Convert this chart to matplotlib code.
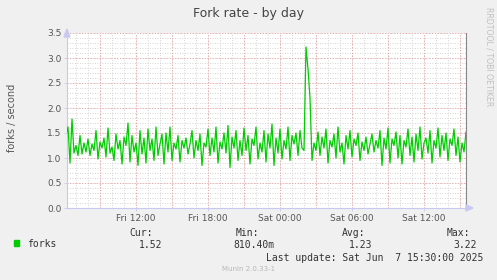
import numpy as np
import pandas as pd
import matplotlib
matplotlib.use("Agg")
import matplotlib.pyplot as plt
import matplotlib.dates as mdates

# forks per second, 10 minute samples
forks = [
    1.45, 1.62, 0.90, 1.78, 1.10, 1.25, 1.05, 1.45, 1.08, 1.30,
    1.12, 1.38, 1.05, 1.28, 1.15, 1.55, 0.98, 1.32, 1.20, 1.40,
    1.02, 1.60, 1.10, 1.22, 0.95, 1.48, 1.18, 1.35, 0.88, 1.42,
    1.25, 1.70, 0.92, 1.45, 1.12, 1.30, 0.85, 1.55, 1.08, 1.40,
    0.90, 1.58, 1.15, 1.38, 0.95, 1.62, 1.05, 1.28, 1.48, 0.88,
    1.50, 1.12, 1.62, 0.95, 1.30, 1.18, 1.45, 0.92, 1.35, 1.20,
    1.40, 1.08, 1.28, 1.55, 1.00, 1.35, 1.15, 1.48, 0.85, 1.30,
    1.22, 1.58, 1.05, 1.40, 1.12, 1.62, 0.90, 1.32, 1.18, 1.50,
    1.10, 1.65, 0.81, 1.42, 1.20, 1.55, 0.95, 1.35, 1.05, 1.60,
    1.15, 1.45, 0.88, 1.38, 1.25, 1.62, 0.98, 1.30, 1.12, 1.55,
    0.92, 1.48, 1.20, 1.68, 0.85, 1.40, 1.10, 1.58, 0.98, 1.35,
    1.18, 1.62, 0.95, 1.45, 1.28, 1.50, 1.05, 1.55, 1.20, 1.15,
    3.22, 2.78, 2.20, 0.95, 1.30, 1.15, 1.52, 1.05, 1.42, 1.20,
    1.58, 0.90, 1.35, 1.22, 1.48, 1.00, 1.62, 1.12, 1.30, 0.88,
    1.45, 1.18, 1.55, 1.02, 1.38, 1.25, 1.50, 0.95, 1.32, 1.15,
    1.42, 1.08, 1.28, 1.48, 1.12, 1.35, 1.20, 1.55, 0.85, 1.40,
    1.18, 1.60, 0.90, 1.38, 1.25, 1.52, 1.00, 1.45, 0.88, 1.35,
    1.22, 1.58, 1.05, 1.42, 0.92, 1.48, 1.15, 1.62, 0.98, 1.30,
    1.40, 1.10, 1.55, 0.90, 1.35, 1.20, 1.60, 1.02, 1.45, 1.15,
    1.50, 0.95, 1.38, 1.25, 1.58, 1.05, 1.42, 0.92, 1.30, 1.12,
    1.52,
]
end_time = pd.Timestamp("2025-06-07 15:30")
times = pd.date_range(end=end_time, periods=len(forks), freq="10min")

stat_names = ["Cur:", "Min:", "Avg:", "Max:"]
stat_values = ["1.52", "810.40m", "1.23", "3.22"]

BG = "#F0F0F0"
AXIS = "#C8C8F0"
GREEN = "#00CC00"

fig = plt.figure(figsize=(4.97, 2.80), dpi=100, facecolor=BG)
W, H = 497.0, 280.0
ax = fig.add_axes([67 / W, (H - 208) / H, 399 / W, 175 / H])
ax.set_facecolor("white")

ax.plot(times, forks, color=GREEN, lw=0.9, zorder=3)

ax.set_ylim(0, 3.5)
ax.set_xlim(end_time - pd.Timedelta(minutes=5 * 399), end_time)

# grid like rrdtool: grey minor, pink major
ax.yaxis.set_major_locator(plt.MultipleLocator(0.5))
ax.yaxis.set_minor_locator(plt.MultipleLocator(0.1))
ax.xaxis.set_major_locator(mdates.HourLocator(byhour=[0, 6, 12, 18]))
ax.xaxis.set_major_formatter(mdates.DateFormatter("%a %H:%M"))
ax.yaxis.set_major_formatter(plt.FormatStrFormatter("%.1f"))

for h in pd.date_range("2025-06-06 07:00", end_time, freq="1h"):
    ax.axvline(h, color="#C8C8C8", lw=0.6, ls=(0, (1, 2)), zorder=1)
for h in pd.date_range("2025-06-06 09:00", end_time, freq="3h"):
    ax.axvline(h, color="#F0A0A0", lw=0.7, ls=(0, (1, 2)), zorder=2)
for v in np.arange(0.1, 3.55, 0.1):
    ax.axhline(v, color="#C8C8C8", lw=0.6, ls=(0, (1, 2)), zorder=1)
for v in np.arange(0.5, 3.55, 0.5):
    ax.axhline(v, color="#F0A0A0", lw=0.7, ls=(0, (1, 2)), zorder=2)

ax.tick_params(axis="both", labelsize=6.5, colors="#555555", length=2, width=0.6)
ax.tick_params(axis="both", which="minor", length=0)
ax.tick_params(axis="x", pad=2, color=AXIS)
ax.tick_params(axis="y", pad=2, color=AXIS)

ax.spines["top"].set_visible(False)
ax.spines["left"].set_color(AXIS)
ax.spines["bottom"].set_color(AXIS)
ax.spines["right"].set_color("#888888")
for s in ax.spines.values():
    s.set_linewidth(0.8)

# axis arrows
fig.patches.append(plt.Polygon([[64 / W, 1 - 37 / H], [70 / W, 1 - 37 / H], [67 / W, 1 - 29 / H]],
                               closed=True, transform=fig.transFigure, color=AXIS, zorder=5))
fig.patches.append(plt.Polygon([[466 / W, 1 - 205 / H], [466 / W, 1 - 211 / H], [473 / W, 1 - 208 / H]],
                               closed=True, transform=fig.transFigure, color=AXIS, zorder=5))

fig.text(249 / W, 1 - 14 / H, "Fork rate - by day", ha="center", va="center",
         fontsize=9, color="#444444")
fig.text(12 / W, 1 - 118 / H, "forks / second", rotation=90, ha="center", va="center",
         fontsize=7, color="#555555")
fig.text(489 / W, 1 - 57 / H, "RRDTOOL / TOBI OETIKER", rotation=270, ha="center",
         va="center", fontsize=5.6, color="#C0C0C0")

mono = "DejaVu Sans Mono"
fig.patches.append(plt.Rectangle((14 / W, 1 - 246 / H), 5 / W, 6 / H, transform=fig.transFigure,
                                 color=GREEN))
fig.text(27 / W, 1 - 244 / H, "forks", family=mono, fontsize=7, color="#333333", va="center")
name_right = [153, 259, 365, 470]
value_right = [162, 274, 372, 477]
for i in range(len(stat_names)):
    fig.text(name_right[i] / W, 1 - 233 / H, stat_names[i], family=mono, fontsize=7,
             color="#333333", ha="right", va="center")
    fig.text(value_right[i] / W, 1 - 245 / H, stat_values[i], family=mono, fontsize=7,
             color="#333333", ha="right", va="center")
fig.text(483 / W, 1 - 258 / H, "Last update: Sat Jun  7 15:30:00 2025", family=mono,
         fontsize=7, color="#333333", ha="right", va="center")
fig.text(249 / W, 1 - 269 / H, "Munin 2.0.33-1", fontsize=5, color="#B8B8B8",
         ha="center", va="center")

fig.savefig("out.png", dpi=100, facecolor=BG)
